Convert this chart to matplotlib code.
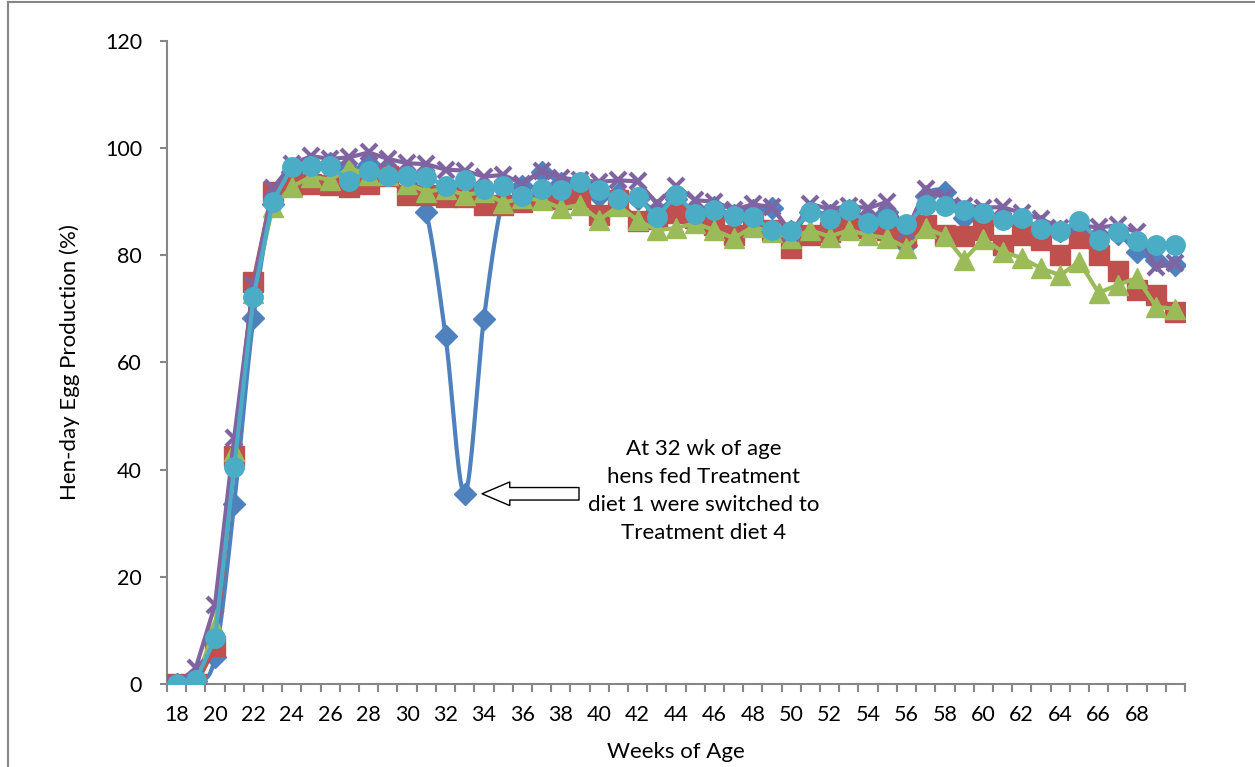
import numpy as np
import matplotlib
matplotlib.use("Agg")
import matplotlib.pyplot as plt
from matplotlib.lines import Line2D

plt.rcParams['font.family'] = ['Lato', 'DejaVu Sans']

weeks = list(range(18, 71))

# Treatment series (hen-day egg production, %)
trt1 = [0, 0.5, 5, 33.6, 68.3, 89.5, 95.5, 96.5, 97.3, 96, 97, 96, 95.3, 88, 65, 35.5,
        68.2, 90.5, 93, 95.5, 93.5, 93.5, 91, 91.5, 90.5, 88.5, 90.5, 88, 89, 87.5, 88.5,
        88.8, 84.5, 88, 87.5, 88.5, 87, 88, 82, 91, 91.8, 87, 87.3, 87, 86, 85.5, 84.5,
        85, 83.8, 84, 80.7, 79.1, 78.2]
trt2 = [0, 0, 7, 42.5, 75, 91.9, 93.1, 93.4, 93.1, 92.8, 93.4, 94.8, 91.3, 91.3, 90.9,
        90.9, 89.4, 89.4, 90, 90.9, 90.6, 90.9, 87.5, 90.3, 86.4, 86.8, 87.9, 87, 85.7,
        83.8, 86, 84.7, 81.4, 83.8, 84.4, 85.3, 85.1, 84.7, 83.5, 85.7, 83.8, 83.6, 84.7,
        82, 83.8, 82.9, 80.1, 83.2, 80.1, 77, 73.5, 72.6, 69.5]
trt3 = [0, 0.3, 10.6, 43.5, 73, 89, 92.8, 94.7, 94.1, 96.3, 95, 95, 93.4, 91.9, 92.4,
        91.3, 91.8, 89.8, 90.7, 90.3, 88.8, 89.4, 86.6, 89.2, 86.6, 84.7, 85.1, 86, 84.7,
        83.2, 85.3, 84.4, 83.2, 84.7, 83.5, 84.7, 83.8, 83.2, 81.4, 85.1, 83.6, 79.1, 83.1,
        80.7, 79.5, 77.6, 76.3, 78.8, 73, 74.5, 75.8, 70.4, 70]
trt4 = [0, 3, 14.8, 46, 74.5, 92.5, 97, 98.5, 98, 98.3, 99.2, 98, 97.2, 97, 96, 95.8,
        94.7, 95, 93.4, 95.8, 94.5, 94, 93.7, 94, 93.8, 89.7, 93, 90.3, 90, 88.5, 89.5,
        89, 84.2, 89.6, 88.6, 89.2, 88.8, 90, 84.5, 92.4, 90.8, 89.3, 88.9, 89, 87.9,
        86.8, 85.1, 85.6, 85.2, 85.6, 84.3, 77.8, 78.5]
trt5 = [0, 0.7, 8.5, 40.5, 72.2, 90, 96.5, 96.6, 96.6, 93.9, 95.7, 94.8, 94.8, 94.7,
        92.9, 94.1, 92.3, 93, 91.1, 92.4, 92.1, 93.6, 92.2, 90.6, 90.8, 87.1, 91.2, 87.8,
        88.4, 87.4, 87.1, 84.8, 84.6, 88.1, 86.8, 88.5, 86.1, 86.8, 85.8, 89.4, 89.3, 88.4,
        87.9, 86.6, 86.9, 84.9, 84.6, 86.4, 82.9, 84.3, 82.7, 81.9, 82.0]

tick_labels = [str(w) for w in range(18, 69, 2)]
note = "At 32 wk of age\nhens fed Treatment\ndiet 1 were switched to\nTreatment diet 4"


def smooth(x, y, n=20):
    # Excel-style smoothed line (Catmull-Rom Bezier)
    x = np.asarray(x, float)
    y = np.asarray(y, float)
    px = np.concatenate([[x[0]], x, [x[-1]]])
    py = np.concatenate([[y[0]], y, [y[-1]]])
    xs, ys = [], []
    t = np.linspace(0, 1, n)
    for i in range(1, len(px) - 2):
        p0 = np.array([px[i], py[i]])
        p3 = np.array([px[i + 1], py[i + 1]])
        c1 = p0 + (np.array([px[i + 1], py[i + 1]]) - np.array([px[i - 1], py[i - 1]])) / 6
        c2 = p3 - (np.array([px[i + 2], py[i + 2]]) - np.array([px[i], py[i]])) / 6
        b = ((1 - t) ** 3)[:, None] * p0 + (3 * (1 - t) ** 2 * t)[:, None] * c1 \
            + (3 * (1 - t) * t ** 2)[:, None] * c2 + (t ** 3)[:, None] * p3
        xs.extend(b[:, 0])
        ys.extend(b[:, 1])
    return xs, ys


fig = plt.figure(figsize=(12.55, 7.67), dpi=100)
ax = fig.add_axes([167 / 1255, 1 - 684 / 767, (1185 - 167) / 1255, (684 - 41) / 767])

sx, sy = smooth(weeks, trt1)
ax.plot(sx, sy, color='#4F81BD', lw=3, zorder=2, solid_capstyle='round')
ax.plot(weeks, trt1, ls='none', marker='D', ms=11, color='#4F81BD', zorder=2)
ax.plot(weeks, trt2, color='#C0504D', lw=3.5, marker='s', ms=14, zorder=3)
ax.plot(weeks, trt3, color='#9BBB59', lw=3, marker='^', ms=15, zorder=4)
ax.plot(weeks, trt4, color='#8064A2', lw=3, marker='x', ms=12, mew=3, zorder=5)
ax.plot(weeks, trt5, color='#4BACC6', lw=3, marker='o', ms=14, zorder=6)

ax.set_xlim(17.5, 70.5)
ax.set_ylim(0, 120)
ax.set_yticks(range(0, 121, 20))
ax.set_xticks(range(18, 69, 2))
ax.set_xticklabels(tick_labels)
ax.set_xticks(np.arange(17.5, 71, 1), minor=True)

gray = '#868686'
for s in ['top', 'right']:
    ax.spines[s].set_visible(False)
for s in ['left', 'bottom']:
    ax.spines[s].set_color(gray)
    ax.spines[s].set_linewidth(1.5)
ax.tick_params(axis='x', which='major', length=0, pad=15, labelsize=15.5)
ax.tick_params(axis='x', which='minor', length=6, width=1.5, color=gray, direction='out')
ax.tick_params(axis='y', length=5, width=1.5, color=gray, pad=13, labelsize=15.5)

ax.set_xlabel('Weeks of Age', fontsize=16, labelpad=12)
ax.set_ylabel('Hen-day Egg Production (%)', fontsize=16, labelpad=18)

ax.annotate('', xy=(33.9, 35.5), xytext=(38.95, 35.5),
            arrowprops=dict(arrowstyle='simple,head_length=1.0,head_width=0.85,tail_width=0.45',
                            fc='white', ec='black', lw=1, mutation_scale=20,
                            shrinkA=0, shrinkB=0))
ax.text(45.45, 36.0, note, ha='center', va='center', fontsize=16, linespacing=1.5)

# chart area border
fig.add_artist(Line2D([8 / 1255, 8 / 1255], [0, 1 - 2 / 767], color=gray, lw=1.5))
fig.add_artist(Line2D([8 / 1255, 1], [1 - 2 / 767, 1 - 2 / 767], color=gray, lw=1.5))

fig.savefig('out.png', dpi=100)
